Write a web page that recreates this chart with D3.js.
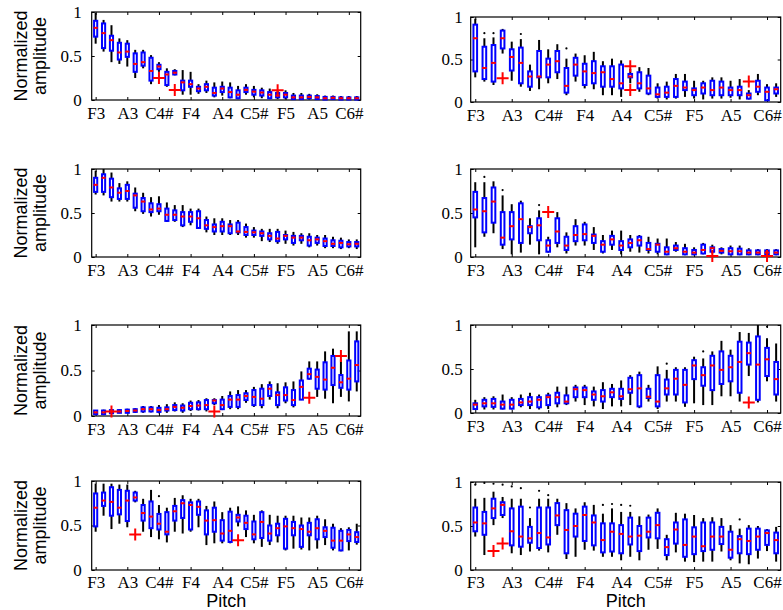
<!DOCTYPE html>
<html>
<head>
<meta charset="utf-8">
<script src="https://cdn.jsdelivr.net/npm/d3@7"></script>
<style>
  body { margin: 0; background: #fff; }
  svg { display: block; }
</style>
</head>
<body>
<svg id="chart" width="783" height="610"></svg>
<script>
// Pitch axis: 34 semitones from F3 to D6, labelled every 4 semitones
const pitchCount = 34;
const pitchTickIndex = [0, 4, 8, 12, 16, 20, 24, 28, 32];
const pitchLabels = ["F3", "A3", "C4#", "F4", "A4", "C5#", "F5", "A5", "C6#"];
const ampTicks = [0, 0.5, 1];
const ampTickLabels = ["0", "0.5", "1"];

// Each box: [lower whisker, Q1, median, Q3, upper whisker]
const boxesA = [
  [0.64,0.72,0.82,0.90,0.99],[0.55,0.59,0.76,0.87,0.91],[0.43,0.56,0.68,0.73,0.85],[0.41,0.46,0.54,0.65,0.70],
  [0.38,0.49,0.55,0.64,0.68],[0.25,0.32,0.41,0.53,0.57],[0.36,0.39,0.43,0.54,0.57],[0.18,0.22,0.33,0.48,0.51],
  [0.32,0.35,0.38,0.40,0.43],[0.15,0.17,0.29,0.32,0.36],[0.28,0.29,0.31,0.33,0.35],[0.06,0.11,0.20,0.22,0.34],
  [0.06,0.15,0.18,0.22,0.32],[0.07,0.10,0.13,0.15,0.18],[0.08,0.11,0.15,0.18,0.22],[0.03,0.05,0.08,0.14,0.20],
  [0.05,0.09,0.13,0.15,0.21],[0.02,0.03,0.09,0.14,0.20],[0.01,0.02,0.06,0.11,0.16],[0.06,0.09,0.115,0.14,0.18],
  [0.03,0.06,0.095,0.115,0.16],[0.02,0.05,0.085,0.11,0.14],[0.01,0.02,0.06,0.09,0.13],[0.01,0.03,0.05,0.08,0.11],
  [0.01,0.03,0.06,0.08,0.11],[0.005,0.01,0.03,0.05,0.08],[0.005,0.01,0.03,0.05,0.08],[0.005,0.02,0.035,0.05,0.07],
  [0.005,0.01,0.03,0.045,0.065],[0,0.005,0.02,0.035,0.05],[0,0.01,0.025,0.035,0.05],[0,0.005,0.02,0.03,0.045],
  [0,0.005,0.02,0.03,0.045],[0,0.005,0.02,0.03,0.045]
];
const outliersA = [];
const marksA = [[8,0.25],[10,0.115],[23,0.11]];

const boxesB = [
  [0.29,0.36,0.75,0.91,0.98],[0.24,0.27,0.40,0.65,0.75],[0.20,0.24,0.46,0.67,0.76],[0.57,0.63,0.75,0.84,0.86],
  [0.25,0.37,0.53,0.62,0.71],[0.18,0.22,0.46,0.64,0.74],[0.13,0.18,0.30,0.36,0.44],[0.15,0.29,0.30,0.60,0.73],
  [0.22,0.29,0.44,0.51,0.62],[0.27,0.35,0.48,0.60,0.68],[0.08,0.11,0.19,0.40,0.51],[0.24,0.31,0.44,0.52,0.57],
  [0.16,0.20,0.36,0.45,0.55],[0.15,0.22,0.34,0.48,0.59],[0.08,0.18,0.35,0.42,0.48],[0.08,0.18,0.27,0.42,0.51],
  [0.06,0.16,0.22,0.44,0.49],[0.22,0.29,0.30,0.33,0.39],[0.12,0.16,0.22,0.35,0.41],[0.08,0.10,0.16,0.31,0.40],
  [0.04,0.06,0.09,0.17,0.22],[0.03,0.06,0.11,0.18,0.24],[0.04,0.06,0.19,0.27,0.33],[0.06,0.14,0.17,0.24,0.33],
  [0.04,0.08,0.14,0.16,0.25],[0.03,0.10,0.17,0.22,0.25],[0.04,0.08,0.14,0.25,0.29],[0.04,0.08,0.17,0.24,0.29],
  [0.05,0.08,0.14,0.17,0.25],[0.03,0.08,0.14,0.18,0.27],[0.03,0.04,0.08,0.10,0.14],[0.08,0.12,0.18,0.25,0.33],
  [0.02,0.02,0.12,0.17,0.21],[0.06,0.10,0.15,0.17,0.22]
];
const outliersB = [[1,0.81],[2,0.81],[5,0.80],[10,0.63]];
const marksB = [[3,0.28],[17,0.42],[17,0.14],[30,0.24]];

const boxesC = [
  [0.71,0.74,0.82,0.90,0.98],[0.70,0.74,0.90,0.94,1.00],[0.63,0.68,0.79,0.89,0.96],[0.63,0.66,0.73,0.78,0.84],
  [0.63,0.66,0.75,0.82,0.86],[0.52,0.56,0.70,0.72,0.79],[0.49,0.52,0.63,0.67,0.73],[0.46,0.51,0.54,0.61,0.68],
  [0.48,0.52,0.55,0.60,0.69],[0.40,0.41,0.48,0.55,0.62],[0.40,0.42,0.48,0.53,0.59],[0.34,0.36,0.46,0.51,0.59],
  [0.36,0.40,0.46,0.51,0.55],[0.32,0.33,0.44,0.52,0.55],[0.28,0.32,0.36,0.42,0.46],[0.25,0.29,0.34,0.37,0.44],
  [0.25,0.29,0.35,0.40,0.44],[0.25,0.27,0.35,0.37,0.42],[0.25,0.28,0.29,0.39,0.42],[0.22,0.25,0.285,0.34,0.38],
  [0.22,0.25,0.28,0.30,0.34],[0.18,0.24,0.27,0.29,0.32],[0.17,0.20,0.24,0.27,0.32],[0.15,0.18,0.21,0.285,0.32],
  [0.15,0.20,0.24,0.25,0.30],[0.13,0.16,0.22,0.24,0.285],[0.15,0.19,0.22,0.24,0.27],[0.11,0.13,0.19,0.23,0.27],
  [0.13,0.16,0.20,0.22,0.25],[0.10,0.125,0.18,0.21,0.25],[0.10,0.125,0.15,0.19,0.23],[0.09,0.11,0.16,0.185,0.22],
  [0.10,0.12,0.145,0.17,0.20],[0.09,0.12,0.15,0.17,0.20]
];
const outliersC = [];
const marksC = [];

const boxesD = [
  [0.11,0.45,0.54,0.74,0.85],[0.23,0.28,0.52,0.67,0.85],[0.27,0.39,0.63,0.79,0.86],[0.09,0.14,0.22,0.51,0.70],
  [0.03,0.20,0.35,0.51,0.60],[0.05,0.16,0.43,0.61,0.64],[0.14,0.27,0.34,0.35,0.44],[0.03,0.19,0.36,0.44,0.53],
  [0.05,0.06,0.13,0.19,0.23],[0.11,0.16,0.29,0.44,0.51],[0.04,0.08,0.13,0.23,0.28],[0.13,0.18,0.25,0.35,0.43],
  [0.13,0.19,0.26,0.37,0.40],[0.08,0.16,0.24,0.255,0.34],[0.04,0.06,0.14,0.18,0.25],[0.08,0.14,0.20,0.24,0.30],
  [0.03,0.08,0.13,0.18,0.30],[0.06,0.11,0.16,0.20,0.25],[0.05,0.13,0.19,0.23,0.25],[0.04,0.08,0.09,0.16,0.23],
  [0.03,0.06,0.14,0.15,0.21],[0.02,0.03,0.06,0.11,0.21],[0.06,0.08,0.10,0.13,0.17],[0.02,0.03,0.06,0.10,0.15],
  [0.02,0.03,0.05,0.08,0.11],[0.03,0.04,0.08,0.14,0.16],[0.04,0.06,0.10,0.11,0.14],[0.03,0.05,0.07,0.09,0.11],
  [0.02,0.03,0.065,0.10,0.13],[0.02,0.03,0.065,0.095,0.13],[0.02,0.03,0.05,0.075,0.10],[0.02,0.03,0.05,0.075,0.09],
  [0.02,0.025,0.05,0.075,0.09],[0.02,0.03,0.05,0.075,0.09]
];
const outliersD = [[1,0.91],[3,0.76],[7,0.59]];
const marksD = [[8,0.51],[26,0.01],[32,0.01]];

const boxesE = [
  [0.015,0.02,0.04,0.06,0.065],[0.01,0.02,0.04,0.06,0.07],[0.02,0.03,0.05,0.065,0.075],[0.03,0.035,0.05,0.065,0.075],
  [0.03,0.035,0.055,0.07,0.08],[0.035,0.045,0.06,0.075,0.085],[0.035,0.05,0.075,0.095,0.11],[0.04,0.05,0.075,0.095,0.11],
  [0.03,0.045,0.065,0.09,0.12],[0.035,0.06,0.075,0.095,0.13],[0.05,0.065,0.10,0.12,0.15],[0.035,0.06,0.09,0.115,0.14],
  [0.055,0.075,0.11,0.145,0.17],[0.06,0.075,0.115,0.15,0.175],[0.05,0.075,0.12,0.175,0.195],[0.12,0.14,0.17,0.175,0.195],
  [0.065,0.075,0.12,0.18,0.22],[0.075,0.10,0.18,0.22,0.27],[0.075,0.10,0.18,0.23,0.285],[0.145,0.175,0.22,0.25,0.285],
  [0.10,0.12,0.21,0.285,0.32],[0.085,0.12,0.19,0.30,0.35],[0.18,0.22,0.30,0.34,0.38],[0.085,0.12,0.23,0.26,0.36],
  [0.14,0.17,0.23,0.315,0.37],[0.095,0.12,0.175,0.285,0.38],[0.175,0.18,0.32,0.39,0.49],[0.40,0.41,0.46,0.52,0.60],
  [0.21,0.30,0.43,0.51,0.60],[0.19,0.29,0.40,0.59,0.71],[0.14,0.34,0.53,0.66,0.74],[0.21,0.31,0.37,0.45,0.62],
  [0.16,0.29,0.41,0.61,0.93],[0.27,0.38,0.56,0.82,0.93]
];
const outliersE = [];
const marksE = [[2,0.05],[15,0.05],[27,0.20],[31,0.66]];

const boxesF = [
  [0.04,0.045,0.095,0.11,0.15],[0.04,0.075,0.11,0.15,0.18],[0.04,0.07,0.11,0.16,0.19],[0.04,0.05,0.095,0.13,0.21],
  [0.04,0.05,0.095,0.15,0.18],[0.065,0.09,0.12,0.16,0.21],[0.045,0.09,0.13,0.18,0.23],[0.04,0.065,0.15,0.18,0.21],
  [0.045,0.09,0.18,0.20,0.23],[0.065,0.11,0.18,0.23,0.30],[0.09,0.11,0.13,0.20,0.30],[0.13,0.18,0.27,0.29,0.32],
  [0.09,0.18,0.26,0.29,0.32],[0.075,0.15,0.21,0.245,0.30],[0.045,0.13,0.19,0.26,0.35],[0.075,0.18,0.235,0.275,0.33],
  [0.075,0.16,0.19,0.275,0.37],[0.09,0.23,0.27,0.40,0.43],[0.055,0.075,0.28,0.43,0.47],[0.13,0.17,0.185,0.275,0.32],
  [0.045,0.075,0.13,0.43,0.53],[0.13,0.21,0.28,0.38,0.49],[0.13,0.21,0.39,0.49,0.52],[0.07,0.12,0.32,0.49,0.52],
  [0.11,0.385,0.54,0.60,0.64],[0.09,0.31,0.43,0.52,0.62],[0.09,0.26,0.54,0.65,0.70],[0.19,0.33,0.49,0.70,0.82],
  [0.19,0.36,0.52,0.65,0.72],[0.13,0.23,0.58,0.81,0.92],[0.42,0.55,0.68,0.80,0.91],[0.12,0.15,0.55,0.87,1.00],
  [0.36,0.42,0.61,0.74,0.85],[0.13,0.21,0.385,0.58,0.79]
];
const outliersF = [[21,0.56],[25,0.70],[32,0.98]];
const marksF = [[30,0.12]];

const boxesG = [
  [0.43,0.49,0.70,0.86,0.97],[0.61,0.72,0.78,0.87,0.97],[0.46,0.61,0.765,0.93,0.97],[0.52,0.625,0.70,0.90,0.96],
  [0.48,0.55,0.78,0.89,0.96],[0.76,0.78,0.815,0.87,0.89],[0.43,0.555,0.64,0.73,0.80],[0.37,0.47,0.60,0.77,0.90],
  [0.345,0.455,0.52,0.63,0.73],[0.31,0.40,0.43,0.65,0.70],[0.43,0.555,0.66,0.72,0.81],[0.41,0.585,0.75,0.785,0.84],
  [0.43,0.455,0.73,0.76,0.80],[0.48,0.62,0.71,0.77,0.80],[0.28,0.40,0.555,0.67,0.72],[0.30,0.43,0.56,0.70,0.77],
  [0.30,0.33,0.41,0.56,0.65],[0.30,0.315,0.44,0.655,0.70],[0.49,0.545,0.59,0.62,0.715],[0.37,0.46,0.53,0.61,0.67],
  [0.30,0.345,0.40,0.545,0.62],[0.26,0.36,0.54,0.65,0.67],[0.28,0.33,0.41,0.50,0.62],[0.31,0.39,0.47,0.52,0.61],
  [0.22,0.24,0.49,0.575,0.61],[0.24,0.39,0.47,0.54,0.61],[0.23,0.26,0.46,0.50,0.59],[0.22,0.39,0.43,0.53,0.59],
  [0.24,0.345,0.47,0.57,0.61],[0.28,0.37,0.44,0.48,0.57],[0.22,0.25,0.33,0.475,0.52],[0.21,0.22,0.33,0.44,0.47],
  [0.22,0.325,0.40,0.45,0.48],[0.285,0.315,0.37,0.425,0.52]
];
const outliersG = [[8,0.83]];
const marksG = [[5,0.40],[18,0.335]];

const boxesH = [
  [0.38,0.44,0.54,0.71,0.81],[0.17,0.40,0.53,0.66,0.82],[0.51,0.59,0.70,0.81,0.89],[0.59,0.625,0.74,0.77,0.83],
  [0.19,0.28,0.44,0.70,0.81],[0.17,0.265,0.38,0.72,0.81],[0.21,0.31,0.36,0.49,0.59],[0.22,0.25,0.42,0.71,0.81],
  [0.20,0.29,0.37,0.71,0.81],[0.40,0.51,0.62,0.76,0.81],[0.125,0.19,0.455,0.68,0.76],[0.15,0.38,0.50,0.64,0.70],
  [0.23,0.33,0.625,0.72,0.77],[0.22,0.28,0.54,0.62,0.74],[0.15,0.20,0.34,0.53,0.64],[0.15,0.21,0.435,0.53,0.70],
  [0.11,0.19,0.41,0.51,0.66],[0.15,0.29,0.38,0.595,0.66],[0.11,0.215,0.39,0.50,0.61],[0.23,0.37,0.435,0.595,0.63],
  [0.24,0.36,0.51,0.65,0.70],[0.11,0.17,0.26,0.35,0.40],[0.20,0.30,0.46,0.54,0.65],[0.095,0.15,0.285,0.575,0.64],
  [0.09,0.18,0.38,0.485,0.625],[0.095,0.215,0.27,0.54,0.59],[0.095,0.23,0.38,0.54,0.60],[0.21,0.295,0.38,0.49,0.59],
  [0.11,0.14,0.23,0.435,0.51],[0.075,0.19,0.35,0.385,0.47],[0.065,0.18,0.33,0.47,0.51],[0.13,0.23,0.38,0.47,0.50],
  [0.215,0.285,0.42,0.45,0.465],[0.095,0.19,0.34,0.425,0.49]
];
const outliersH = [[0,0.97],[1,0.99],[2,0.98],[3,0.97],[4,0.95],[5,0.93],[6,0.71],[7,0.90],[8,0.85],
                   [14,0.74],[15,0.75],[16,0.74],[17,0.73],[29,0.575]];
const marksH = [[2,0.215],[3,0.30]];

// Panel layout (pixel frame of each axes box)
const panels = [
  { boxes: boxesA, outliers: outliersA, marks: marksA, left: 91.7,  right: 360.7, top: 12,  bottom: 100, col: 0, title: false },
  { boxes: boxesB, outliers: outliersB, marks: marksB, left: 470.7, right: 780.7, top: 17,  bottom: 102, col: 1, title: false },
  { boxes: boxesC, outliers: outliersC, marks: marksC, left: 91.7,  right: 360.7, top: 169, bottom: 257, col: 0, title: false },
  { boxes: boxesD, outliers: outliersD, marks: marksD, left: 470.7, right: 780.7, top: 169, bottom: 257, col: 1, title: false },
  { boxes: boxesE, outliers: outliersE, marks: marksE, left: 91.7,  right: 360.7, top: 325, bottom: 416, col: 0, title: false },
  { boxes: boxesF, outliers: outliersF, marks: marksF, left: 470.7, right: 780.7, top: 325, bottom: 413, col: 1, title: false },
  { boxes: boxesG, outliers: outliersG, marks: marksG, left: 91.7,  right: 360.7, top: 481, bottom: 570, col: 0, title: true },
  { boxes: boxesH, outliers: outliersH, marks: marksH, left: 470.7, right: 780.7, top: 482, bottom: 570, col: 1, title: true }
];

const BLUE = "#0000ff", RED = "#ff0000", BLACK = "#000000";
const serif = "'Liberation Serif', 'Times New Roman', serif";
const sans = "'Liberation Sans', Arial, sans-serif";

const svg = d3.select("#chart");

panels.forEach(p => {
  const x = d3.scaleLinear().domain([-0.5, pitchCount - 0.5]).range([p.left, p.right]);
  const y = d3.scaleLinear().domain([0, 1]).range([p.bottom, p.top]);
  const step = x(1) - x(0);
  const bw = step * 0.4;

  const g = svg.append("g");

  // Bottom axis with inward ticks and pitch labels
  const xAxis = d3.axisBottom(x)
    .tickValues(pitchTickIndex)
    .tickFormat((d, i) => pitchLabels[i])
    .tickSizeInner(-3).tickSizeOuter(0).tickPadding(p.title ? 6 : 7);
  const gx = g.append("g").attr("transform", `translate(0,${p.bottom})`).call(xAxis);
  gx.select(".domain").remove();
  gx.selectAll("text").attr("font-family", serif).attr("font-size", 17).attr("fill", BLACK);
  gx.selectAll("line").attr("stroke", BLACK);

  // Mirrored ticks along the top edge
  const gxt = g.append("g").attr("transform", `translate(0,${p.top})`)
    .call(d3.axisTop(x).tickValues(pitchTickIndex).tickFormat("").tickSizeInner(-3).tickSizeOuter(0));
  gxt.select(".domain").remove();

  // Left axis
  const yAxis = d3.axisLeft(y)
    .tickValues(ampTicks)
    .tickFormat((d, i) => ampTickLabels[i])
    .tickSizeInner(-3).tickSizeOuter(0).tickPadding(p.col === 0 ? 10 : 8);
  const gy = g.append("g").attr("transform", `translate(${p.left},0)`).call(yAxis);
  gy.select(".domain").remove();
  gy.selectAll("text").attr("font-family", serif).attr("font-size", 17).attr("fill", BLACK);

  const gyr = g.append("g").attr("transform", `translate(${p.right},0)`)
    .call(d3.axisRight(y).tickValues(ampTicks).tickFormat("").tickSizeInner(-3).tickSizeOuter(0));
  gyr.select(".domain").remove();

  // Axes frame
  g.append("rect")
    .attr("x", p.left).attr("y", p.top)
    .attr("width", p.right - p.left).attr("height", p.bottom - p.top)
    .attr("fill", "none").attr("stroke", BLACK).attr("stroke-width", 1.2);

  // Whiskers
  const bx = g.append("g");
  p.boxes.forEach((b, i) => {
    const cx = x(i);
    bx.append("line").attr("x1", cx).attr("x2", cx).attr("y1", y(b[0])).attr("y2", y(b[1]))
      .attr("stroke", BLACK).attr("stroke-width", 2);
    bx.append("line").attr("x1", cx).attr("x2", cx).attr("y1", y(b[3])).attr("y2", y(b[4]))
      .attr("stroke", BLACK).attr("stroke-width", 2);
  });

  // Boxes (Q1..Q3)
  bx.selectAll("rect.box").data(p.boxes).join("rect").attr("class", "box")
    .attr("x", (b, i) => x(i) - bw / 2)
    .attr("y", b => y(b[3]))
    .attr("width", bw)
    .attr("height", b => Math.max(0.5, y(b[1]) - y(b[3])))
    .attr("fill", "none").attr("stroke", BLUE).attr("stroke-width", 2);

  // Medians
  bx.selectAll("line.med").data(p.boxes).join("line").attr("class", "med")
    .attr("x1", (b, i) => x(i) - bw / 2 - 0.5)
    .attr("x2", (b, i) => x(i) + bw / 2 + 0.5)
    .attr("y1", b => y(b[2])).attr("y2", b => y(b[2]))
    .attr("stroke", RED).attr("stroke-width", 2);

  // Outliers
  bx.selectAll("circle.out").data(p.outliers).join("circle").attr("class", "out")
    .attr("cx", d => x(d[0])).attr("cy", d => y(d[1])).attr("r", 1.1)
    .attr("fill", BLACK);

  // Red plus markers
  const s = 6;
  bx.selectAll("path.mark").data(p.marks).join("path").attr("class", "mark")
    .attr("d", d => {
      const mx = x(d[0]), my = y(d[1]);
      return `M${mx - s},${my}H${mx + s}M${mx},${my - s}V${my + s}`;
    })
    .attr("stroke", RED).attr("stroke-width", 2).attr("fill", "none");

  // Y-axis title on the left column
  if (p.col === 0) {
    const cy = (p.top + p.bottom) / 2;
    g.append("text")
      .attr("transform", `translate(27,${cy}) rotate(-90)`)
      .attr("text-anchor", "middle").attr("font-family", sans).attr("font-size", 18)
      .attr("fill", BLACK).text("Normalized");
    g.append("text")
      .attr("transform", `translate(46,${cy}) rotate(-90)`)
      .attr("text-anchor", "middle").attr("font-family", sans).attr("font-size", 18)
      .attr("fill", BLACK).text("amplitude");
  }

  // X-axis title under the bottom row
  if (p.title) {
    g.append("text")
      .attr("x", (p.left + p.right) / 2).attr("y", 607)
      .attr("text-anchor", "middle").attr("font-family", sans).attr("font-size", 18)
      .attr("fill", BLACK).text("Pitch");
  }
});
</script>
</body>
</html>
